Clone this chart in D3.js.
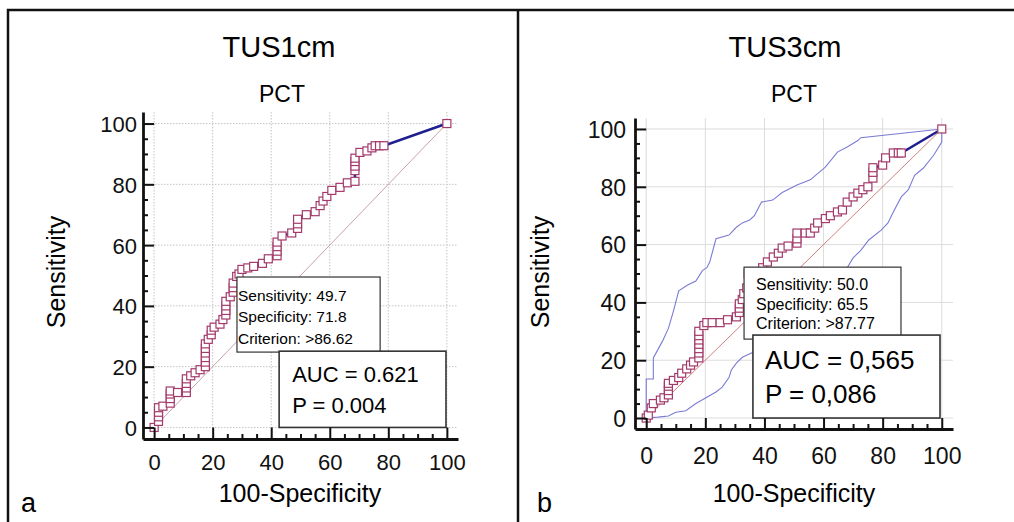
<!DOCTYPE html>
<html>
  <head>
    <meta charset="utf-8">
    <title>ROC curves PCT</title>
    <script src="https://cdn.jsdelivr.net/npm/d3@7/dist/d3.min.js"></script>
    <style>
      body { margin: 0; background: #fff; }
      svg { display: block; font-family: "Liberation Sans", Arial, sans-serif; }
    </style>
  </head>

  <body>
    <svg id="chart" width="1014" height="522"></svg>

    <script>
      // tick labels
      const ticks = [0, 20, 40, 60, 80, 100];

      // panel a: TUS1cm, ROC points (100-specificity, sensitivity)
      const rocA_fpr = [0, 1.5, 1.5, 1.5, 1.5, 3, 5.5, 5.5, 5.5, 5.5, 8, 11, 11, 11, 11, 12.5, 14, 15.7,
        17.5, 17.5, 17.5, 17.5, 17.5, 17.5, 18.5, 19.5, 19.5, 20.5, 22.5, 23.5, 24.5, 24.5, 24.5, 24.5, 26,
        27, 27, 27, 28.2, 29, 30, 32, 34, 37, 39, 42, 42, 42, 42, 43.7, 47, 49, 49, 49, 52, 55, 56.7, 57.7,
        59, 60.7, 63.5, 66, 68.6, 68.6, 68.6, 68.6, 68.6, 70.3, 72.7, 74.4, 75.5, 77, 78.5, 100];
      const rocA_tpr = [0, 2, 3.5, 5, 6.5, 7, 8, 9.5, 11, 12, 11.5, 11.5, 13, 14.5, 16, 17, 18, 19,
        20, 21.5, 23, 24.5, 26, 27.5, 29, 30.5, 32, 33, 34, 35.5, 37, 38.5, 40, 41.5, 43,
        44.5, 46, 47.5, 49.7, 50.5, 52, 52.5, 53, 54, 55.5, 56.5, 58, 59.5, 61, 63, 64, 65.5, 67, 68.5,
        70, 71, 73, 74.5, 76, 78, 79, 80.5, 81, 84.5, 86, 87.5, 88.6, 90.5, 91, 92, 92.7, 92.7, 92.7, 100];

      // panel b: TUS3cm, ROC points
      const rocB_fpr = [0, 0.7, 1.7, 2.4, 4.8, 6, 7.5, 7.5, 7.5, 7.5, 9.2, 11, 12, 13.7, 15, 16,
        17.8, 17.8, 17.8, 17.8, 17.8, 17.8, 17.8, 19.5, 20.5, 22.3, 25, 27.5, 30.5, 31.5, 31.5, 31.5,
        32.5, 33, 34, 34.5, 36.5, 38, 39.4, 41, 43, 44.7, 46, 48, 51, 51, 51, 53.8, 55.5, 57, 58, 60.6,
        62.3, 64.7, 66.4, 68, 70, 71.6, 73.3, 75, 76.7, 76.7, 76.7, 80, 81, 83.6, 85.3, 86.3, 100];
      const rocB_tpr = [0, 1, 3.5, 5, 6.2, 7, 8, 9.5, 11, 12, 13, 14, 15.5, 17, 18.3, 19.4,
        20.8, 22.5, 24, 25.5, 27, 28.5, 30, 32, 33, 33, 33, 34, 35, 36.5, 38, 39.5,
        41, 43, 45, 50, 48.5, 50.5, 52, 54, 55.7, 57, 58.8, 59.5, 60.5, 62, 64, 64, 64, 65.7, 67.5, 69,
        70, 71.3, 72, 74.7, 76.5, 77.8, 79, 80, 83, 85, 86.6, 87.5, 90, 91.7, 91.7, 91.7, 100];

      // panel b: 95% confidence bounds
      const ciUpper_fpr = [0, 0, 2.4, 2.4, 5.5, 7.5, 9.2, 11, 14, 16.8, 19, 20.5, 21.5, 23.6, 28, 30.5,
        32.5, 35, 36.6, 39, 42.8, 46, 51, 55.5, 60.6, 64.7, 68, 71.6, 72.6, 100];
      const ciUpper_tpr = [0, 13.5, 13.5, 20.8, 26.6, 31, 37, 44, 46, 47.4, 51, 52, 54, 62, 63.3, 66,
        67.5, 68.5, 70, 74.7, 75.4, 78, 80.6, 82.4, 86.8, 92, 93.8, 96, 97, 100];
      const ciLower_fpr = [0, 4, 7.5, 10, 13.4, 16.8, 20.2, 23.6, 25.7, 28, 28.8, 30.5, 32.5, 35.6, 40,
        45, 50, 55, 60, 64, 68, 70, 72.6, 75.3, 79.5, 81.8, 83.6, 86.3, 88.7, 90.8, 93.8, 97.3, 100, 100];
      const ciLower_tpr = [0, 0.3, 0.7, 2, 2.5, 5, 7, 9, 10.7, 14, 16.6, 19, 21, 22.5, 25,
        29, 33, 37, 42, 46, 52, 55.4, 58, 61.6, 65, 67.5, 71.3, 76.5, 79, 84, 86.5, 91, 95.5, 100];

      // texts
      const calloutA = ["Sensitivity: 49.7", "Specificity: 71.8", "Criterion: >86.62"];
      const calloutB = ["Sensitivity: 50.0", "Specificity: 65.5", "Criterion: >87.77"];
      const aucA = ["AUC = 0.621", "P = 0.004"];
      const aucB = ["AUC = 0,565", "P = 0,086"];

      const svg = d3.select("#chart");

      // outer frame
      svg.append("path")
        .attr("d", "M8,522V10H1014M518,10V522")
        .attr("fill", "none")
        .attr("stroke", "#111")
        .attr("stroke-width", 2.5);

      drawPanel({
        title: "TUS1cm", titleX: 279, subX: 282, letter: "a", letterX: 21,
        yLabX: 65, xLabX: 300,
        box: { left: 143, right: 458, top: 112, bottom: 439 },
        tickFont: 22, yPad: 6, xPad: 15.4,
        gridDash: "1.5,1.5", gridColour: "#c4c4c4", diagColour: "#c9a0a8",
        fpr: rocA_fpr, tpr: rocA_tpr,
        callout: { x0: 28.3, x1: 77.2, y0: 49.5, y1: 24.8, dx: 1, lines: calloutA, base: [23.5, 44.5, 66.5], font: 15.5 },
        auc: { x0: 42.7, x1: 99.7, y0: 25.1, y1: 0, dx: 13, lines: aucA, base: [31, 62], font: 22 }
      });

      drawPanel({
        title: "TUS3cm", titleX: 785, subX: 794, letter: "b", letterX: 537,
        yLabX: 549, xLabX: 794,
        box: { left: 635, right: 953, top: 118, bottom: 429 },
        tickFont: 23, yPad: 9, xPad: 18.5,
        gridDash: null, gridColour: "#dcdcdc", diagColour: "#d08080",
        fpr: rocB_fpr, tpr: rocB_tpr,
        ci: [[ciUpper_fpr, ciUpper_tpr], [ciLower_fpr, ciLower_tpr]],
        callout: { x0: 33.1, x1: 86.2, y0: 52.2, y1: 27.3, dx: 12, lines: calloutB, base: [23, 43, 62], font: 16 },
        auc: { x0: 36.1, x1: 99.4, y0: 28.7, y1: 0, dx: 12, lines: aucB, base: [34, 68], font: 26 }
      });

      function drawPanel(p) {
        const g = svg.append("g");
        const x = d3.scaleLinear().domain([-3.8, 103.8]).range([p.box.left, p.box.right]);
        const y = d3.scaleLinear().domain([-3.8, 103.8]).range([p.box.bottom, p.box.top]);
        const minor = d3.range(5, 100, 5).filter(function(v) { return v % 20 !== 0; });

        // titles
        g.append("text").attr("x", p.titleX).attr("y", 57).attr("text-anchor", "middle")
          .style("font-size", "29px").text(p.title);
        g.append("text").attr("x", p.subX).attr("y", 102).attr("text-anchor", "middle")
          .style("font-size", "23px").text("PCT");
        g.append("text").attr("transform", "translate(" + p.yLabX + ",272) rotate(-90)")
          .attr("text-anchor", "middle").style("font-size", "25px").text("Sensitivity");
        g.append("text").attr("x", p.xLabX).attr("y", 502).attr("text-anchor", "middle")
          .style("font-size", "25px").text("100-Specificity");
        g.append("text").attr("x", p.letterX).attr("y", 512)
          .style("font-size", "27px").text(p.letter);

        // grid
        const grid = g.append("g")
          .attr("stroke", p.gridColour)
          .attr("stroke-width", 1)
          .attr("stroke-dasharray", p.gridDash);
        grid.selectAll(".gx").data(ticks).enter().append("line")
          .attr("x1", function(d) { return x(d); }).attr("x2", function(d) { return x(d); })
          .attr("y1", y.range()[1]).attr("y2", y.range()[0]);
        grid.selectAll(".gy").data(ticks).enter().append("line")
          .attr("y1", function(d) { return y(d); }).attr("y2", function(d) { return y(d); })
          .attr("x1", x.range()[0]).attr("x2", x.range()[1]);

        // reference diagonal
        g.append("line")
          .attr("x1", x(0)).attr("y1", y(0)).attr("x2", x(100)).attr("y2", y(100))
          .attr("stroke", p.diagColour).attr("stroke-width", 1);

        const line = d3.line()
          .x(function(d) { return x(d[0]); })
          .y(function(d) { return y(d[1]); });

        // confidence bounds
        (p.ci || []).forEach(function(c) {
          g.append("path")
            .datum(d3.zip(c[0], c[1]))
            .attr("d", line)
            .attr("fill", "none")
            .attr("stroke", "#7b7bd6")
            .attr("stroke-width", 1.1);
        });

        // ROC curve
        const pts = d3.zip(p.fpr, p.tpr);
        g.append("path")
          .datum(pts)
          .attr("d", line)
          .attr("fill", "none")
          .attr("stroke", "#1f1f8f")
          .attr("stroke-width", 2.5);
        g.selectAll(".pt").data(pts).enter().append("rect")
          .attr("x", function(d) { return x(d[0]) - 4; })
          .attr("y", function(d) { return y(d[1]) - 4; })
          .attr("width", 8).attr("height", 8)
          .attr("fill", "#fff")
          .attr("stroke", "#a33a6b")
          .attr("stroke-width", 1.2);

        // text boxes
        [p.callout, p.auc].forEach(function(b, i) {
          const bx = x(b.x0), by = y(b.y0);
          g.append("rect")
            .attr("x", bx).attr("y", by)
            .attr("width", x(b.x1) - bx).attr("height", y(b.y1) - by)
            .attr("fill", "#fff")
            .attr("stroke", "#333")
            .attr("stroke-width", i === 0 ? 1.2 : 1.6);
          g.selectAll(null).data(b.lines).enter().append("text")
            .attr("x", bx + b.dx)
            .attr("y", function(d, j) { return by + b.base[j]; })
            .style("font-size", b.font + "px")
            .text(function(d) { return d; });
        });

        // axes
        const yMinor = g.append("g").attr("transform", "translate(" + p.box.left + ",0)")
          .call(d3.axisLeft(y).tickValues(minor).tickSize(-5).tickFormat(""));
        const xMinor = g.append("g").attr("transform", "translate(0," + p.box.bottom + ")")
          .call(d3.axisBottom(x).tickValues(minor).tickSize(-5).tickFormat(""));
        yMinor.select(".domain").remove();
        xMinor.select(".domain").remove();

        const yAxis = g.append("g").attr("transform", "translate(" + p.box.left + ",0)")
          .call(d3.axisLeft(y).tickValues(ticks).tickSize(-(x(0) - p.box.left)).tickSizeOuter(0).tickPadding(p.yPad));
        const xAxis = g.append("g").attr("transform", "translate(0," + p.box.bottom + ")")
          .call(d3.axisBottom(x).tickValues(ticks).tickSize(-(p.box.bottom - y(0))).tickSizeOuter(0).tickPadding(p.xPad));

        [yAxis, xAxis, yMinor, xMinor].forEach(function(a) {
          a.selectAll("line").attr("stroke", "#111").attr("stroke-width", 2);
          a.select(".domain").attr("stroke", "#111").attr("stroke-width", 2.8);
          a.selectAll("text")
            .attr("fill", "#111")
            .style("font-family", "'Liberation Sans', Arial, sans-serif")
            .style("font-size", p.tickFont + "px");
        });
        xAxis.selectAll("text").attr("dy", "0.71em");
        yAxis.selectAll("text").attr("dy", "0.36em");
      }
    </script>
  </body>
</html>
